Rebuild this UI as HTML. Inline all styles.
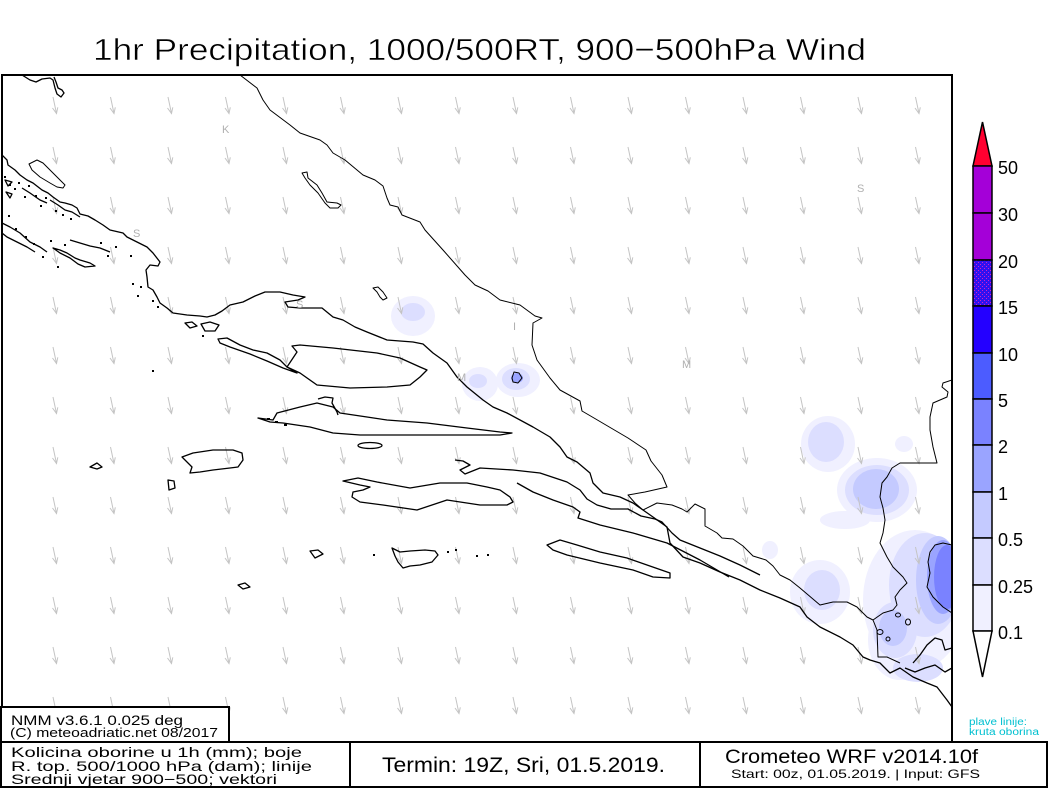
<!DOCTYPE html>
<html><head><meta charset="utf-8"><style>
html,body{margin:0;padding:0;background:#fff;}
svg{display:block;}
text{font-family:"Liberation Sans",sans-serif;}
</style></head><body>
<svg width="1050" height="788" viewBox="0 0 1050 788" xmlns="http://www.w3.org/2000/svg">
<defs>
<clipPath id="mapclip"><rect x="2" y="75" width="950" height="667"/></clipPath>
<pattern id="arrows" patternUnits="userSpaceOnUse" x="24" y="90" width="57.5" height="50">
<g stroke="#c4c4c4" stroke-width="1" fill="none">
<line x1="29" y1="7" x2="32.5" y2="23.5"/>
<polyline points="28.5,18 32.5,23.5 33.8,17.3"/>
</g>
</pattern>
<pattern id="dots" patternUnits="userSpaceOnUse" width="4" height="4">
<rect width="4" height="4" fill="#3010f0"/>
<rect x="0" y="0" width="1" height="1" fill="#d020c8"/>
<rect x="2" y="2" width="1" height="1" fill="#d020c8"/>
</pattern>
</defs>

<rect width="1050" height="788" fill="#fff"/>

<!-- Title -->
<text x="93" y="60" font-size="31" textLength="773" lengthAdjust="spacingAndGlyphs" fill="#000" stroke="#fff" stroke-width="0.5">1hr Precipitation, 1000/500RT, 900−500hPa Wind</text>

<g clip-path="url(#mapclip)">
<!-- precipitation -->
<g>
<ellipse cx="413" cy="316" rx="22" ry="20" fill="#f0f0ff"/>
<ellipse cx="413" cy="312" rx="12" ry="9" fill="#dcdeff"/>
<ellipse cx="418" cy="329" rx="7" ry="6" fill="#f0f0ff"/>
<ellipse cx="480" cy="384" rx="18" ry="17" fill="#f0f0ff"/>
<ellipse cx="478" cy="381" rx="9" ry="7" fill="#dcdeff"/>
<ellipse cx="518" cy="380" rx="22" ry="17" fill="#f0f0ff"/>
<ellipse cx="516" cy="379" rx="14" ry="11" fill="#dcdeff"/>
<ellipse cx="517" cy="378" rx="6" ry="5" fill="#9aa4ff"/>
<ellipse cx="828" cy="444" rx="27" ry="28" fill="#f0f0ff"/>
<ellipse cx="826" cy="442" rx="18" ry="20" fill="#dcdeff"/>
<ellipse cx="904" cy="444" rx="9" ry="8" fill="#f0f0ff"/>
<ellipse cx="877" cy="490" rx="40" ry="32" fill="#f0f0ff"/>
<ellipse cx="845" cy="520" rx="25" ry="9" fill="#f0f0ff"/>
<ellipse cx="877" cy="490" rx="32" ry="25" fill="#dcdeff"/>
<ellipse cx="876" cy="489" rx="23" ry="20" fill="#c4caff"/>
<ellipse cx="770" cy="550" rx="8" ry="9" fill="#f0f0ff"/>
<ellipse cx="820" cy="592" rx="30" ry="32" fill="#f0f0ff"/>
<ellipse cx="822" cy="590" rx="18" ry="20" fill="#dcdeff"/>
<ellipse cx="915" cy="600" rx="52" ry="70" fill="#f0f0ff"/>
<ellipse cx="900" cy="640" rx="32" ry="40" fill="#f0f0ff"/>
<ellipse cx="925" cy="585" rx="36" ry="52" fill="#dcdeff"/>
<ellipse cx="895" cy="630" rx="22" ry="28" fill="#dcdeff"/>
<ellipse cx="918" cy="668" rx="25" ry="14" fill="#dcdeff"/>
<ellipse cx="893" cy="628" rx="14" ry="18" fill="#c4caff"/>
<ellipse cx="938" cy="580" rx="22" ry="44" fill="#c4caff"/>
<ellipse cx="943" cy="577" rx="16" ry="37" fill="#9aa4ff"/>
<ellipse cx="947" cy="577" rx="13" ry="32" fill="#7a82ff"/>
</g>

<!-- wind arrows -->
<rect x="2" y="75" width="950" height="667" fill="url(#arrows)"/>

<!-- coastlines & borders -->
<g fill="none" stroke="#000" stroke-width="1.3" stroke-linejoin="round">
<path d="M22,75 L30,80 L36,82 L42,79 L50,78 L53,80 L55,88 L57,94 L61,97 L64,93 L62,90 L58,88 L56,82 L54,77"/>
<path d="M29,164 L37,160 L43,163 L50,170 L57,177 L65,185 L63,188 L57,187 L50,183 L40,177 L32,170 Z" stroke-width="1"/>
<path d="M2,155 L7,160 L8,165 L15,170 L20,175 L27,180 L33,183 L42,190 L48,193 L53,197 L60,202 L65,203 L72,205 L77,208 L80,214 L88,216 L95,220 L103,225 L110,230 L123,233 L127,237 L137,242 L147,247 L153,253 L160,262 L158,266 L150,265 L146,270 L147,277 L148,287 L153,290 L157,297 L160,303 L167,308 L173,313 L187,315 L200,316 L207,317 L215,315 L222,311 L230,305 L243,302 L255,296 L265,292 L280,292 L293,295 L305,297 L298,300 L285,302 L288,307 L300,308 L322,308 L333,317 L343,320 L355,327 L367,332 L387,340 L413,342 L423,344 L433,353 L447,363 L457,377 L467,387 L483,400 L493,407 L507,413 L533,427 L550,437 L560,447 L567,457 L577,462 L590,473 L593,483 L603,493 L620,497 L633,503 L643,510 L653,517 L667,527 L670,543 L683,557 L700,563 L720,572 L740,580 L760,590 L780,598 L800,607 L807,617 L820,627 L840,637 L853,645 L863,657 L870,660 L880,663 L890,673 L900,668 L913,677 L927,683 L937,687 L947,700 L952,707"/>
<!-- small left islands -->
<path d="M22,188 L30,193 L40,200 L47,203"/>
<path d="M50,200 L58,205 L65,210 L72,212 L80,217"/>
<path d="M2,223 L10,227 L20,233 L30,242 L40,247 L47,252"/>
<path d="M2,233 L7,237 L17,242 L27,247 L35,252"/>
<path d="M53,248 L60,250 L67,253 L75,258 L80,260 L90,263 L95,266 L85,267 L78,264 L70,258 L60,253 Z"/>
<path d="M70,240 L80,243 L90,246 L100,248 L110,252"/>
<path d="M5,180 L12,182 L8,186 Z M6,192 L12,194 L10,198 Z M185,323 L192,322 L197,326 L190,328 Z M201,324 L210,322 L219,325 L215,331 L205,331 Z"/>
<!-- upper lake & small island -->
<path d="M302,173 L307,172 L308,178 L317,185 L322,193 L327,202 L337,203 L341,205 L338,208 L330,208 L325,203 L318,193 L310,185 L305,178 Z" stroke-width="1"/>
<path d="M373,288 L378,287 L383,292 L387,298 L383,300 L380,297 L377,292 Z" stroke-width="1"/>
<!-- borders -->
<path stroke-width="1" d="M240,75 L257,88 L263,100 L270,110 L290,125 L300,133 L320,140 L327,145 L333,153 L345,160 L363,175 L375,180 L383,186 L387,198 L390,205 L398,207 L402,215 L420,222 L425,230 L443,250 L465,275 L475,285 L488,291 L500,300 L520,305 L535,316 L542,318 L533,323 L532,345 L537,360 L550,378 L560,390 L580,401 L582,411 L594,418 L611,428 L628,438 L646,450 L651,461 L662,475 L667,487 L645,492 L628,495 L635,503 L643,510 L657,503 L672,505 L682,509 L687,512 L695,504 L705,509 L705,526 L717,533 L722,538 L733,539 L743,546 L753,556 L766,560 L773,566 L780,575 L790,580 L800,588 L820,605 L833,602 L847,602 L857,607 L867,617 L873,620 L883,613 L893,610 L897,605 L895,597 L900,590 L907,583 L903,577 L893,567 L887,557 L880,543 L883,533 L885,520 L883,508 L880,497 L882,483 L887,477 L892,468 L900,463 L907,463 L937,463 L933,447 L930,430 L930,417 L933,403 L947,397 L948,392 L942,387 L943,383 L952,380"/>
<path stroke-width="1" d="M873,620 L877,630 L878,657 L887,657 L900,663"/>
<path d="M913,663 L920,655 L927,645 L935,638 L942,640 L945,650 L952,648"/>
<path d="M905,668 L915,672 L925,668 L935,665 L945,672 L952,668"/>
<!-- islands -->
<path d="M218,339 L227,338 L240,345 L253,350 L267,353 L280,360 L287,367 L297,373 L283,368 L267,361 L250,354 L230,347 L220,343 Z"/>
<path d="M292,346 L300,345 L333,348 L377,353 L400,358 L420,367 L427,370 L420,377 L410,385 L387,387 L350,388 L317,385 L300,373 L287,367 L293,358 L297,352 Z"/>
<path d="M258,418 L273,420 L277,413 L300,407 L317,403 L333,407 L340,413 L367,417 L387,420 L427,423 L467,428 L500,432 L512,433 L500,435 L467,435 L400,435 L360,435 L333,433 L310,427 L283,423 L270,422 Z"/>
<path d="M318,399 L325,397 L333,398 L332,403 L337,412 L338,415"/>
<path d="M182,457 L193,453 L213,450 L233,450 L242,453 L243,460 L238,467 L230,468 L213,470 L200,472 L190,473 L192,467 L187,462 Z"/>
<path d="M90,467 L97,463 L102,467 L97,469 Z M168,480 L174,481 L175,488 L169,490 Z"/>
<ellipse cx="370" cy="445.5" rx="12" ry="3"/>
<path d="M343,481 L358,478 L377,482 L410,488 L440,483 L467,483 L487,487 L500,490 L510,497 L513,502 L507,505 L480,505 L447,500 L417,510 L383,505 L360,502 L352,497 L353,492 L363,490 L370,487 L360,485 Z"/>
<path d="M310,551 L318,550 L323,554 L315,558 Z"/>
<path d="M392,548 L400,552 L410,551 L425,550 L435,551 L438,555 L432,562 L420,565 L410,566 L403,568 L398,562 L395,556 Z"/>
<path d="M547,545 L560,540 L577,545 L600,552 L627,558 L647,565 L670,573 L670,578 L653,577 L633,570 L600,563 L567,555 L553,550 Z"/>
<path d="M455,460 L463,461 L470,465 L460,470 L465,474 L480,468 L513,470 L540,473 L567,482 L580,490 L587,499 L597,505 L611,509 L628,509 L641,516 L655,519 L662,522 L672,533 L680,540 L700,548 L720,556 L740,565 L760,575"/>
<path d="M517,483 L533,492 L553,500 L573,507 L580,512 L578,518 L600,525 L633,533 L667,543 L700,560 L729,577"/>
<path d="M238,585 L245,583 L250,587 L243,589 Z"/>
<!-- precip contours -->
<path stroke-width="1" d="M952,545 L943,543 L935,545 L930,552 L928,562 L930,573 L927,587 L933,597 L943,607 L952,613"/>
<path stroke-width="1" d="M512,378 L514,372 L519,373 L522,378 L518,383 L513,382 Z"/>
<ellipse cx="898" cy="615" rx="2.5" ry="2" stroke-width="1"/>
<ellipse cx="908" cy="622" rx="2.5" ry="3" stroke-width="1"/>
<ellipse cx="880" cy="632" rx="3" ry="2.5" stroke-width="1"/>
<ellipse cx="888" cy="639" rx="2" ry="2" stroke-width="1"/>
</g>

<!-- island dot clusters -->
<g fill="#000">
<rect x="4" y="176" width="2" height="2"/><rect x="9" y="184" width="2" height="2"/><rect x="14" y="188" width="2" height="2"/>
<rect x="18" y="182" width="2" height="2"/><rect x="24" y="196" width="2" height="2"/><rect x="28" y="185" width="2" height="2"/>
<rect x="35" y="195" width="2" height="2"/><rect x="40" y="205" width="2" height="2"/><rect x="45" y="197" width="2" height="2"/>
<rect x="55" y="210" width="2" height="2"/><rect x="62" y="214" width="2" height="2"/><rect x="70" y="218" width="2" height="2"/>
<rect x="8" y="215" width="2" height="2"/><rect x="15" y="228" width="2" height="2"/><rect x="25" y="236" width="2" height="2"/>
<rect x="42" y="256" width="2" height="2"/><rect x="57" y="266" width="2" height="2"/><rect x="33" y="243" width="2" height="2"/>
<rect x="50" y="240" width="2" height="2"/><rect x="64" y="244" width="2" height="2"/><rect x="100" y="242" width="2" height="2"/>
<rect x="115" y="246" width="2" height="2"/><rect x="107" y="255" width="2" height="2"/><rect x="130" y="255" width="2" height="2"/>
<rect x="132" y="283" width="2" height="2"/><rect x="137" y="295" width="2" height="2"/><rect x="140" y="286" width="2" height="2"/>
<rect x="152" y="300" width="2" height="2"/><rect x="157" y="306" width="2" height="2"/><rect x="202" y="335" width="2" height="2"/>
<rect x="267" y="418" width="3" height="2"/><rect x="275" y="421" width="3" height="2"/><rect x="284" y="424" width="3" height="2"/>
<rect x="152" y="370" width="2" height="2"/><rect x="373" y="554" width="2" height="2"/><rect x="447" y="551" width="2" height="2"/>
<rect x="455" y="549" width="2" height="2"/><rect x="476" y="555" width="2" height="2"/><rect x="487" y="554" width="2" height="2"/>
</g>

<!-- city labels -->
<g fill="#b0b0b0" font-size="11">
<text x="222" y="133">K</text>
<text x="133" y="237">S</text>
<text x="857" y="192">S</text>
<text x="296" y="308">S</text>
<text x="513" y="330">I</text>
<text x="457" y="381">M</text>
<text x="682" y="368">M</text>
</g>
</g>

<!-- map frame -->
<rect x="2" y="75" width="950" height="667" fill="none" stroke="#000" stroke-width="2"/>

<!-- colorbar -->
<g stroke="#000" stroke-width="1.5">
<polygon points="973,166 992,166 982.5,122" fill="#ff0030"/>
<rect x="973" y="166" width="19" height="47" fill="#a400d8"/>
<rect x="973" y="213" width="19" height="47" fill="#a400d8"/>
<rect x="973" y="260" width="19" height="46" fill="url(#dots)"/>
<rect x="973" y="306" width="19" height="47" fill="#2400ff"/>
<rect x="973" y="353" width="19" height="46" fill="#4c5cff"/>
<rect x="973" y="399" width="19" height="46" fill="#7a82ff"/>
<rect x="973" y="445" width="19" height="47" fill="#9aa4ff"/>
<rect x="973" y="492" width="19" height="46" fill="#c4caff"/>
<rect x="973" y="538" width="19" height="47" fill="#dcdeff"/>
<rect x="973" y="585" width="19" height="46" fill="#f0f0ff"/>
<polygon points="973,631 992,631 982.5,677" fill="#fff"/>
</g>
<g font-size="18" fill="#000">
<text x="998" y="174">50</text>
<text x="998" y="221">30</text>
<text x="998" y="268">20</text>
<text x="998" y="314">15</text>
<text x="998" y="361">10</text>
<text x="998" y="407">5</text>
<text x="998" y="453">2</text>
<text x="998" y="500">1</text>
<text x="998" y="546">0.5</text>
<text x="998" y="593">0.25</text>
<text x="998" y="639">0.1</text>
</g>
<g font-size="10" fill="#00c0d0">
<text x="969" y="725" textLength="58" lengthAdjust="spacingAndGlyphs">plave linije:</text>
<text x="969" y="735" textLength="70" lengthAdjust="spacingAndGlyphs">kruta oborina</text>
</g>

<!-- bottom panels -->
<rect x="1" y="707" width="228" height="35" fill="#fff" stroke="#000" stroke-width="2"/>
<rect x="1" y="742" width="1046" height="45" fill="#fff" stroke="#000" stroke-width="2"/>
<line x1="350" y1="742" x2="350" y2="787" stroke="#000" stroke-width="2"/>
<line x1="700" y1="742" x2="700" y2="787" stroke="#000" stroke-width="2"/>
<g fill="#000">
<text x="11" y="725" font-size="14" textLength="172" lengthAdjust="spacingAndGlyphs">NMM v3.6.1 0.025 deg</text>
<text x="10" y="737" font-size="13" textLength="208" lengthAdjust="spacingAndGlyphs">(C) meteoadriatic.net 08/2017</text>
<text x="11" y="757" font-size="14" textLength="291" lengthAdjust="spacingAndGlyphs">Kolicina oborine u 1h (mm); boje</text>
<text x="11" y="771" font-size="14" textLength="301" lengthAdjust="spacingAndGlyphs">R. top. 500/1000 hPa (dam); linije</text>
<text x="11" y="784" font-size="14" textLength="266" lengthAdjust="spacingAndGlyphs">Srednji vjetar 900−500; vektori</text>
<text x="382" y="772" font-size="21" textLength="283" lengthAdjust="spacingAndGlyphs">Termin: 19Z, Sri, 01.5.2019.</text>
<text x="725" y="763" font-size="19" textLength="253" lengthAdjust="spacingAndGlyphs">Crometeo WRF v2014.10f</text>
<text x="731" y="778" font-size="12" textLength="249" lengthAdjust="spacingAndGlyphs">Start: 00z, 01.05.2019. | Input: GFS</text>
</g>
</svg>
</body></html>
